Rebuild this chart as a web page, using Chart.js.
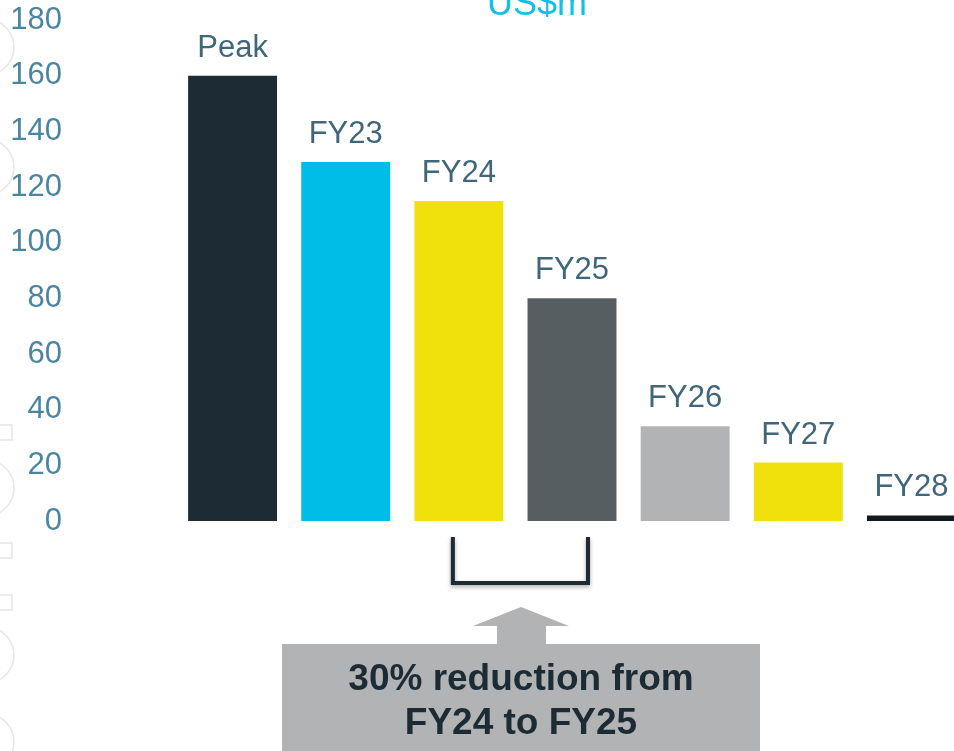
<!DOCTYPE html>
<html>
<head>
<meta charset="utf-8">
<script src="https://cdn.jsdelivr.net/npm/chart.js@4.4.1/dist/chart.umd.min.js"></script>
<style>
  html, body { margin: 0; padding: 0; background: #fff; overflow: hidden; }
  .chartBox { position: relative; width: 980px; height: 751px; }
</style>
</head>
<body>
<div class="chartBox"><canvas id="myChart"></canvas></div>
<script>
// data
const categories = ['Peak', 'FY23', 'FY24', 'FY25', 'FY26', 'FY27', 'FY28'];
const costValues = [160, 129, 115, 80, 34, 21, 2];
const barColours = ['#1d2b35', '#00bde8', '#f0e10c', '#565e61', '#b1b3b4', '#f0e10c', '#101a20'];
const yTicks = [0, 20, 40, 60, 80, 100, 120, 140, 160, 180];
const unitTitle = 'US$m';
const calloutLines = ['30% reduction from', 'FY24 to FY25'];

const FONT = '"Liberation Sans", Arial, sans-serif';

// faint watermark on the left edge
const watermark = {
  id: 'watermark',
  beforeDraw(chart) {
    const ctx = chart.ctx;
    ctx.save();
    ctx.strokeStyle = '#e6e6e6';
    ctx.lineWidth = 1.5;
    [47, 167, 488, 655, 742].forEach(cy => {
      ctx.beginPath();
      ctx.arc(-14, cy, 28, -Math.PI / 2, Math.PI / 2);
      ctx.stroke();
    });
    [425, 543, 595].forEach(y => {
      ctx.strokeRect(-4, y, 16, 15);
    });
    ctx.restore();
  }
};

// title, bar labels, bracket and call-out box
const extras = {
  id: 'extras',
  afterDraw(chart) {
    const ctx = chart.ctx;
    const meta = chart.getDatasetMeta(0);
    const x = chart.scales.x;
    ctx.save();
    ctx.textAlign = 'center';
    ctx.textBaseline = 'alphabetic';

    // unit title (cut off at top)
    ctx.font = '36px ' + FONT;
    ctx.fillStyle = '#13bfe8';
    ctx.fillText(unitTitle, 537, 15);

    // labels over bars
    ctx.font = '31px ' + FONT;
    ctx.fillStyle = '#40667a';
    meta.data.forEach((bar, i) => {
      ctx.fillText(categories[i], bar.x, bar.y - 19);
    });

    // bracket under FY24 / FY25
    const bl = x.getPixelForValue(2) - 6;
    const br = x.getPixelForValue(3) + 16;
    ctx.shadowColor = 'rgba(0,0,0,0.35)';
    ctx.shadowBlur = 4;
    ctx.shadowOffsetY = 2;
    ctx.strokeStyle = '#1d2b35';
    ctx.lineWidth = 4;
    ctx.beginPath();
    ctx.moveTo(bl, 537);
    ctx.lineTo(bl, 583);
    ctx.lineTo(br, 583);
    ctx.lineTo(br, 537);
    ctx.stroke();
    ctx.shadowColor = 'transparent';

    // arrow
    const cx = 521;
    ctx.fillStyle = '#b1b3b4';
    ctx.beginPath();
    ctx.moveTo(cx, 607);
    ctx.lineTo(cx + 48, 626);
    ctx.lineTo(cx + 25, 626);
    ctx.lineTo(cx + 25, 645);
    ctx.lineTo(cx - 24, 645);
    ctx.lineTo(cx - 24, 626);
    ctx.lineTo(cx - 48, 626);
    ctx.closePath();
    ctx.fill();

    // call-out box
    ctx.fillRect(282, 644, 478, 110);
    ctx.fillStyle = '#1d2b35';
    ctx.font = 'bold 37px ' + FONT;
    ctx.fillText(calloutLines[0], cx, 690);
    ctx.fillText(calloutLines[1], cx, 734);

    ctx.restore();
  }
};

const data = {
  labels: categories,
  datasets: [{
    data: costValues,
    backgroundColor: barColours,
    borderWidth: 0,
    barPercentage: 0.786,
    categoryPercentage: 1
  }]
};

const config = {
  type: 'bar',
  data,
  options: {
    responsive: true,
    maintainAspectRatio: false,
    animation: false,
    layout: { padding: { top: 20, bottom: 230, left: 0, right: 12 } },
    plugins: {
      legend: { display: false },
      tooltip: { enabled: false }
    },
    scales: {
      x: { display: false },
      y: {
        min: 0,
        max: 180,
        afterBuildTicks(scale) {
          scale.ticks = yTicks.map(v => ({ value: v }));
        },
        afterFit(scale) {
          scale.width = 176;
          scale.paddingTop = 0;
          scale.paddingBottom = 0;
        },
        grid: { display: false, drawTicks: false },
        border: { display: false },
        ticks: {
          padding: 114,
          color: '#4a86a0',
          font: { family: FONT, size: 31 }
        }
      }
    }
  },
  plugins: [watermark, extras]
};

const myChart = new Chart(document.getElementById('myChart'), config);
</script>
</body>
</html>
